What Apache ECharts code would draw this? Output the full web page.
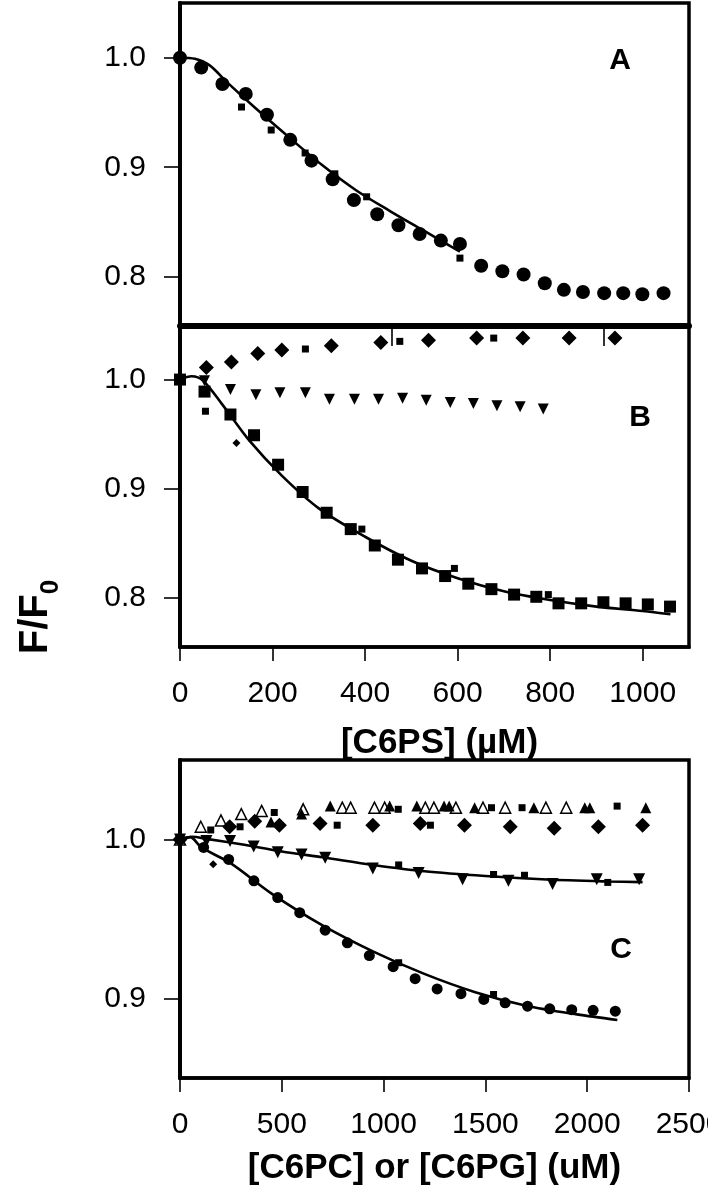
<!DOCTYPE html>
<html>
<head>
<meta charset="utf-8">
<script src="https://cdn.jsdelivr.net/npm/echarts@6/dist/echarts.min.js"></script>
<style>
html,body{margin:0;padding:0;background:#fff;}
#chart{width:708px;height:1199px;}
</style>
</head>
<body>
<div id="chart"></div>
<script>
// ---------- Panel A ----------
const aTicksX = [0, 500, 1000];
const aTicksY = [0.8, 0.9, 1.0];
const aCircleX = [0, 50, 100, 155, 205, 260, 310, 360, 410, 465, 515, 565, 615, 660, 710, 760, 810, 860, 905, 950, 1000, 1045, 1090, 1140];
const aCircleY = [1.000, 0.991, 0.976, 0.967, 0.948, 0.925, 0.906, 0.889, 0.870, 0.857, 0.847, 0.839, 0.833, 0.830, 0.810, 0.805, 0.802, 0.794, 0.788, 0.786, 0.785, 0.785, 0.784, 0.785];
const aSquareX = [145, 215, 295, 365, 440, 660];
const aSquareY = [0.955, 0.934, 0.913, 0.894, 0.873, 0.817];
const aFitX = [0, 35, 70, 110, 175, 255, 335, 415, 495, 575, 660];
const aFitY = [1.000, 0.999, 0.993, 0.978, 0.955, 0.928, 0.902, 0.879, 0.860, 0.842, 0.823];

// ---------- Panel B ----------
const bTicksX = [0, 200, 400, 600, 800, 1000];
const bTicksY = [0.8, 0.9, 1.0];
const bSquareX = [0, 53, 109, 160, 212, 265, 317, 369, 421, 471, 523, 573, 623, 673, 722, 770, 818, 867, 915, 963, 1011, 1059];
const bSquareY = [1.000, 0.989, 0.968, 0.949, 0.922, 0.897, 0.878, 0.863, 0.848, 0.835, 0.827, 0.820, 0.813, 0.808, 0.803, 0.801, 0.795, 0.795, 0.796, 0.795, 0.794, 0.792];
const bDiamondX = [57, 111, 168, 220, 327, 434, 537, 641, 741, 841, 940];
const bDiamondY = [1.011, 1.016, 1.024, 1.027, 1.031, 1.034, 1.036, 1.038, 1.038, 1.038, 1.038];
const bSmallSqX = [55, 271, 393, 475, 593, 678, 796];
const bSmallSqY = [0.971, 1.028, 0.863, 1.035, 0.827, 1.038, 0.803];
const bSmallDiaX = [122];
const bSmallDiaY = [0.942];
const bTriDownX = [53, 109, 164, 216, 271, 323, 377, 429, 481, 532, 584, 634, 685, 735, 785];
const bTriDownY = [0.999, 0.991, 0.986, 0.988, 0.988, 0.982, 0.982, 0.982, 0.983, 0.981, 0.979, 0.978, 0.976, 0.975, 0.973];
const bFitX = [0, 25, 50, 90, 150, 220, 300, 400, 500, 600, 700, 800, 900, 1000, 1060];
const bFitY = [1.000, 1.003, 0.999, 0.978, 0.944, 0.912, 0.882, 0.856, 0.834, 0.818, 0.806, 0.798, 0.792, 0.788, 0.785];

// ---------- Panel C ----------
const cTicksX = [0, 500, 1000, 1500, 2000, 2500];
const cTicksY = [0.9, 1.0];
const cOpenTriX = [0, 102, 201, 301, 401, 605, 797, 838, 955, 1005, 1205, 1247, 1355, 1488, 1597, 1797, 1897];
const cOpenTriY = [1.000, 1.008, 1.012, 1.016, 1.018, 1.019, 1.020, 1.020, 1.020, 1.020, 1.020, 1.020, 1.020, 1.020, 1.020, 1.020, 1.020];
const cTriX = [447, 597, 738, 1030, 1163, 1297, 1322, 1447, 1738, 1988, 2013, 2288];
const cTriY = [1.011, 1.016, 1.021, 1.021, 1.021, 1.021, 1.021, 1.020, 1.020, 1.020, 1.020, 1.020];
const cDiamondX = [0, 244, 367, 488, 688, 947, 1180, 1397, 1622, 1838, 2055, 2272];
const cDiamondY = [1.000, 1.008, 1.0115, 1.009, 1.010, 1.009, 1.010, 1.009, 1.008, 1.007, 1.008, 1.009];
const cSmallSqX = [151, 295, 463, 772, 1072, 1230, 1530, 1680, 2147, 1074, 1540, 1692, 2101, 1074, 1540];
const cSmallSqY = [1.006, 1.008, 1.017, 1.009, 1.019, 1.009, 1.020, 1.020, 1.021, 0.984, 0.978, 0.9775, 0.973, 0.9225, 0.9025];
const cSmallDiaX = [163];
const cSmallDiaY = [0.9845];
const cTriDownX = [0, 130, 246, 362, 480, 597, 713, 947, 1172, 1388, 1613, 1830, 2047, 2255];
const cTriDownY = [1.000, 0.999, 0.999, 0.9956, 0.992, 0.9906, 0.9885, 0.9817, 0.979, 0.975, 0.974, 0.972, 0.975, 0.975];
const cTriFitX = [0, 60, 130, 300, 500, 700, 950, 1200, 1500, 1800, 2100, 2272];
const cTriFitY = [1.000, 1.0017, 1.0004, 0.997, 0.9925, 0.9888, 0.984, 0.980, 0.977, 0.9748, 0.9736, 0.9732];
const cCircleX = [0, 116, 239, 363, 480, 588, 713, 822, 930, 1047, 1155, 1263, 1380, 1492, 1597, 1707, 1816, 1924, 2029, 2138];
const cCircleY = [1.000, 0.995, 0.9875, 0.974, 0.9635, 0.954, 0.943, 0.935, 0.927, 0.920, 0.9125, 0.906, 0.903, 0.8994, 0.8973, 0.8952, 0.8935, 0.893, 0.8926, 0.892];
const cCircFitX = [0, 50, 105, 250, 450, 700, 950, 1200, 1450, 1700, 1950, 2148];
const cCircFitY = [1.000, 1.0015, 0.995, 0.985, 0.966, 0.946, 0.9295, 0.9155, 0.904, 0.8955, 0.890, 0.8865];

const FONT = 'Liberation Sans';
const BLACK = '#000';

function pairs(xs, ys) { return xs.map((x, i) => [x, ys[i]]); }

function scatter(name, ax, xs, ys, symbol, size, extra) {
  return Object.assign({
    name: name, type: 'scatter', xAxisIndex: ax, yAxisIndex: ax,
    data: pairs(xs, ys), symbol: symbol, symbolSize: size,
    itemStyle: { color: BLACK, opacity: 1 }, z: 3
  }, extra || {});
}
function fit(name, ax, xs, ys) {
  return {
    name: name, type: 'line', xAxisIndex: ax, yAxisIndex: ax,
    data: pairs(xs, ys), showSymbol: false, symbol: 'none', smooth: 0.3,
    lineStyle: { color: BLACK, width: 2.6, opacity: 1 }, z: 4
  };
}
function yAxis(gi, min, max, ticks) {
  return {
    type: 'value', gridIndex: gi, min: min, max: max,
    splitLine: { show: false },
    axisLine: { show: true, lineStyle: { color: BLACK, width: 4 } },
    axisTick: { show: true, customValues: ticks, length: 16, lineStyle: { color: BLACK, width: 1.6 } },
    axisLabel: { customValues: ticks, fontSize: 30, fontFamily: FONT, color: BLACK, margin: 34,
      formatter: v => v.toFixed(1) }
  };
}
function xAxis(gi, max, ticks, labels, tickLen, lineW) {
  return {
    type: 'value', gridIndex: gi, min: 0, max: max,
    splitLine: { show: false },
    axisLine: { show: true, onZero: false, lineStyle: { color: BLACK, width: lineW } },
    axisTick: { show: true, customValues: ticks, length: tickLen, lineStyle: { color: BLACK, width: 1.6 } },
    axisLabel: { show: labels, customValues: ticks, fontSize: 30, fontFamily: FONT, color: BLACK, margin: 32,
      formatter: v => String(v) }
  };
}

const chart = echarts.init(document.getElementById('chart'), null, { renderer: 'canvas' });
const gridStyle = { show: true, borderColor: BLACK, borderWidth: 3.5, backgroundColor: 'transparent',
  containLabel: false, outerBoundsMode: 'none' };

const xA = xAxis(0, 1200, aTicksX, false, 20, 6);
const xB = xAxis(1, 1100, bTicksX, true, 14, 3.5);
xB.name = '[C6PS] (\u00B5M)';
xB.nameLocation = 'middle';
xB.nameGap = 79;
xB.nameTextStyle = { fontSize: 35, fontWeight: 'bold', fontFamily: FONT, color: BLACK, padding: [0, 0, 0, 10] };
const xC = xAxis(2, 2500, cTicksX, true, 14, 3.5);
xC.name = '[C6PC] or [C6PG] (uM)';
xC.nameLocation = 'middle';
xC.nameGap = 73;
xC.nameTextStyle = { fontSize: 35, fontWeight: 'bold', fontFamily: FONT, color: BLACK };

const option = {
  animation: false,
  backgroundColor: '#fff',
  grid: [
    Object.assign({ left: 180, top: 3, width: 509, height: 323 }, gridStyle),
    Object.assign({ left: 180, top: 325, width: 509, height: 322 }, gridStyle),
    Object.assign({ left: 180, top: 760, width: 509, height: 318 }, gridStyle)
  ],
  xAxis: [xA, xB, xC],
  yAxis: [
    yAxis(0, 0.755, 1.05, aTicksY),
    yAxis(1, 0.755, 1.05, bTicksY),
    yAxis(2, 0.85, 1.05, cTicksY)
  ],
  series: [
    // A
    scatter('A squares', 0, aSquareX, aSquareY, 'rect', 7),
    scatter('A circles', 0, aCircleX, aCircleY, 'circle', 14),
    fit('A fit', 0, aFitX, aFitY),
    // B
    scatter('B diamonds', 1, bDiamondX, bDiamondY, 'diamond', 15),
    scatter('B small squares', 1, bSmallSqX, bSmallSqY, 'rect', 7),
    scatter('B small diamonds', 1, bSmallDiaX, bSmallDiaY, 'diamond', 8),
    scatter('B triangles', 1, bTriDownX, bTriDownY, 'triangle', 11, { symbolRotate: 180 }),
    scatter('B squares', 1, bSquareX, bSquareY, 'rect', 12),
    fit('B fit', 1, bFitX, bFitY),
    // C
    scatter('C open triangles', 2, cOpenTriX, cOpenTriY, 'triangle', 11,
      { itemStyle: { color: '#fff', borderColor: BLACK, borderWidth: 1.5, opacity: 1 } }),
    scatter('C triangles', 2, cTriX, cTriY, 'triangle', 11),
    scatter('C diamonds', 2, cDiamondX, cDiamondY, 'diamond', 15),
    scatter('C small squares', 2, cSmallSqX, cSmallSqY, 'rect', 7),
    scatter('C small diamonds', 2, cSmallDiaX, cSmallDiaY, 'diamond', 8),
    scatter('C inverted triangles', 2, cTriDownX, cTriDownY, 'triangle', 12, { symbolRotate: 180 }),
    scatter('C circles', 2, cCircleX, cCircleY, 'circle', 11),
    fit('C fit triangles', 2, cTriFitX, cTriFitY),
    fit('C fit circles', 2, cCircFitX, cCircFitY)
  ],
  graphic: [
    { type: 'text', x: 620, y: 61, style: { text: 'A', font: 'bold 30px "Liberation Sans"', fill: BLACK, align: 'center', verticalAlign: 'middle' } },
    { type: 'text', x: 640, y: 418, style: { text: 'B', font: 'bold 30px "Liberation Sans"', fill: BLACK, align: 'center', verticalAlign: 'middle' } },
    { type: 'text', x: 621, y: 950, style: { text: 'C', font: 'bold 30px "Liberation Sans"', fill: BLACK, align: 'center', verticalAlign: 'middle' } },
    { type: 'text', x: 36, y: 617, rotation: Math.PI / 2,
      style: { text: '{a|F/F}{b|0}', align: 'center', verticalAlign: 'middle',
        rich: {
          a: { fontSize: 40, fontWeight: 'bold', fontFamily: FONT, fill: BLACK, color: BLACK, lineHeight: 56, verticalAlign: 'middle' },
          b: { fontSize: 26, fontWeight: 'bold', fontFamily: FONT, fill: BLACK, color: BLACK, lineHeight: 26, verticalAlign: 'bottom' }
        } } }
  ]
};
chart.setOption(option);
</script>
</body>
</html>
